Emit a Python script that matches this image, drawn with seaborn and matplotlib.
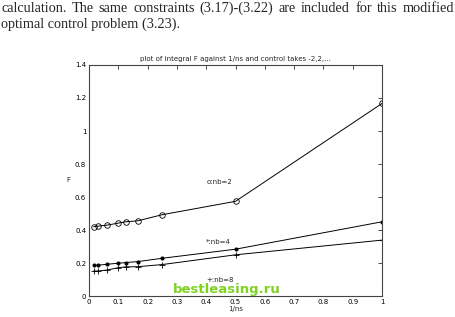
import matplotlib
matplotlib.use("Agg")
import matplotlib.pyplot as plt
import seaborn as sns
import numpy as np
import pandas as pd
from matplotlib.ticker import FuncFormatter

# data
inv_ns = [1/64, 1/32, 1/16, 1/10, 1/8, 1/6, 1/4, 1/2, 1.0]
f_nb2 = [0.420, 0.424, 0.430, 0.442, 0.450, 0.456, 0.493, 0.574, 1.167]
f_nb4 = [0.187, 0.187, 0.193, 0.199, 0.203, 0.209, 0.229, 0.284, 0.450]
f_nb8 = [0.152, 0.152, 0.158, 0.172, 0.177, 0.178, 0.191, 0.250, 0.339]
x_ticks = [0, 0.1, 0.2, 0.3, 0.4, 0.5, 0.6, 0.7, 0.8, 0.9, 1]
y_ticks = [0, 0.2, 0.4, 0.6, 0.8, 1.0, 1.2, 1.4]
page_line1 = "calculation. The same constraints (3.17)-(3.22) are included for this modified"
page_line2 = "optimal control problem (3.23)."

sns.set_style("white")
plt.rcParams['font.family'] = ['DejaVu Sans']

fig = plt.figure(figsize=(4.55, 3.17), dpi=100)
ax = fig.add_axes([0.1956, 0.066, 0.644, 0.729])

sns.lineplot(x=inv_ns, y=f_nb2, ax=ax, color='k', lw=0.7, marker='o',
             markersize=4, markerfacecolor='none', markeredgecolor='k',
             markeredgewidth=0.6)
sns.lineplot(x=inv_ns, y=f_nb4, ax=ax, color='k', lw=0.7, marker='o',
             markersize=2.2, markerfacecolor='k', markeredgecolor='k')
sns.lineplot(x=inv_ns, y=f_nb8, ax=ax, color='k', lw=0.7, marker='+',
             markersize=4, markeredgecolor='k', markeredgewidth=0.6)

ax.set_xlim(0, 1)
ax.set_ylim(0, 1.4)
ax.set_xticks(x_ticks)
ax.set_yticks(y_ticks)
fmt = FuncFormatter(lambda v, p: f"{v:g}")
ax.xaxis.set_major_formatter(fmt)
ax.yaxis.set_major_formatter(fmt)
ax.tick_params(direction='in', length=3, width=0.5, labelsize=5,
               top=True, right=True, colors='k', pad=2)
for s in ax.spines.values():
    s.set_linewidth(0.8)
    s.set_color('#444444')

ax.set_title("plot of integral F against 1/ns and control takes -2,2,...",
             fontsize=5, pad=3)
ax.set_xlabel("1/ns", fontsize=5, labelpad=1)
ax.set_ylabel("F", fontsize=5, rotation=0)
ax.yaxis.set_label_coords(-0.07, 0.49)

ax.text(0.40, 0.69, "o:nb=2", fontsize=5, ha='left', va='center')
ax.text(0.40, 0.325, "*:nb=4", fontsize=5, ha='left', va='center')
ax.text(0.40, 0.098, "+:nb=8", fontsize=5, ha='left', va='center')

# page text above the chart (line 1 justified to the full width)
W = 455.0
renderer = fig.canvas.get_renderer()
words = page_line1.split(" ")
tmp = []
total = 0.0
for w in words:
    t = fig.text(0, 0, w, fontsize=10.3, family='Liberation Serif')
    bb = t.get_window_extent(renderer=renderer)
    tmp.append(bb.width)
    t.remove()
    total += bb.width
gap = (W - 2 - total) / (len(words) - 1)
xpos = 1.0
for w, wd in zip(words, tmp):
    fig.text(xpos / W, 0.973, w, fontsize=10.3, family='Liberation Serif',
             ha='left', va='center')
    xpos += wd + gap
fig.text(1.0 / W, 0.923, page_line2, fontsize=10.3,
         family='Liberation Serif', ha='left', va='center')

fig.text(0.498, 0.088, "bestleasing.ru", fontsize=9.5, fontweight='bold',
         color='#7ed321', ha='center', va='center')

fig.savefig("out.png", dpi=100)
